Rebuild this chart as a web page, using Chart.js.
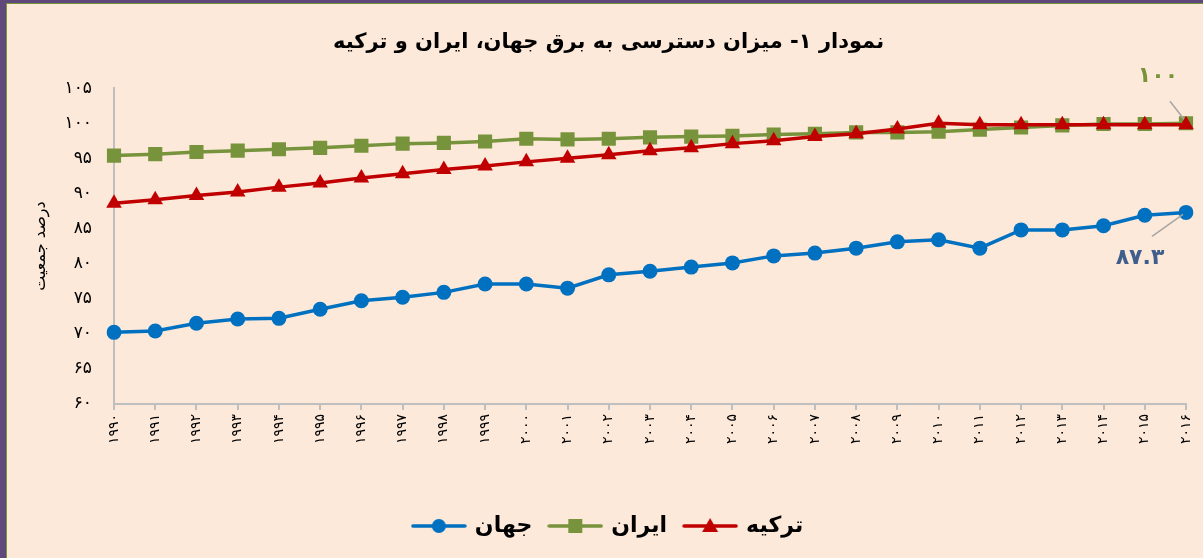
<!DOCTYPE html>
<html lang="fa">
<head>
<meta charset="utf-8">
<script src="https://cdn.jsdelivr.net/npm/chart.js@4.4.0/dist/chart.umd.min.js"></script>
<style>
    html, body { margin: 0; padding: 0; width: 1203px; height: 558px; overflow: hidden; background: #fde9d9; }
    .frame {
        position: absolute; left: 0; top: 0; width: 1203px; height: 558px; box-sizing: border-box;
        border-top: 3px solid #5f497a; border-left: 6px solid #5f497a;
    }
    .inner {
        position: absolute; left: 0; top: 0; right: 0; bottom: 0;
        border-top: 1px solid #77933c; border-left: 1px solid #77933c;
    }
    .chart-box { position: absolute; left: 0; top: 0; right: 0; bottom: 0; }
</style>
</head>
<body>
<div class="frame"><div class="inner"><div class="chart-box"><canvas id="chart1"></canvas></div></div></div>
<script>
const years = ['1990', '1991', '1992', '1993', '1994', '1995', '1996', '1997', '1998', '1999',
    '2000', '2001', '2002', '2003', '2004', '2005', '2006', '2007', '2008', '2009',
    '2010', '2011', '2012', '2013', '2014', '2015', '2016'];
const world = [70.2, 70.4, 71.5, 72.1, 72.2, 73.5, 74.7, 75.2, 75.9, 77.1,
    77.1, 76.5, 78.4, 78.9, 79.5, 80.1, 81.1, 81.5, 82.2, 83.1,
    83.4, 82.2, 84.8, 84.8, 85.4, 86.9, 87.3];
const iran = [95.4, 95.6, 95.9, 96.1, 96.3, 96.5, 96.8, 97.1, 97.2, 97.4,
    97.8, 97.7, 97.8, 98.0, 98.1, 98.2, 98.4, 98.5, 98.7, 98.7,
    98.8, 99.1, 99.4, 99.7, 99.9, 99.9, 100];
const turkey = [88.6, 89.1, 89.7, 90.2, 90.9, 91.5, 92.2, 92.8, 93.4, 93.9,
    94.5, 95.0, 95.5, 96.1, 96.5, 97.1, 97.5, 98.1, 98.5, 99.2,
    100, 99.8, 99.8, 99.8, 99.8, 99.8, 99.8];
const yTicks = { min: 60, max: 105, step: 5 };
const seriesNames = ['جهان', 'ایران', 'ترکیه'];

const FONT = "'DejaVu Sans', sans-serif";
const BLUE = '#0070c0';
const GREEN = '#77933c';
const RED = '#c00000';

function toFa(v) {
    return String(v).replace(/\d/g, d => '۰۱۲۳۴۵۶۷۸۹'[d]);
}

// line + marker icon for the legend, like the office legend
function legendIcon(color, shape) {
    const c = document.createElement('canvas');
    c.width = 56;
    c.height = 20;
    const g = c.getContext('2d');
    g.strokeStyle = color;
    g.fillStyle = color;
    g.lineWidth = 3.5;
    g.lineCap = 'round';
    g.beginPath();
    g.moveTo(2, 10);
    g.lineTo(54, 10);
    g.stroke();
    g.beginPath();
    if (shape === 'circle') {
        g.arc(28, 10, 7, 0, Math.PI * 2);
    } else if (shape === 'rect') {
        g.rect(21, 3, 14, 14);
    } else {
        g.moveTo(28, 2);
        g.lineTo(36, 16);
        g.lineTo(20, 16);
        g.closePath();
    }
    g.fill();
    return c;
}

const endLabels = {
    id: 'endLabels',
    afterDatasetsDraw(chart) {
        const ctx = chart.ctx;
        const last = years.length - 1;
        const pIran = chart.getDatasetMeta(1).data[last];
        const pWorld = chart.getDatasetMeta(0).data[last];
        ctx.save();
        ctx.strokeStyle = '#a6a6a6';
        ctx.lineWidth = 1.5;
        ctx.beginPath();
        ctx.moveTo(pIran.x - 16, pIran.y - 22);
        ctx.lineTo(pIran.x - 2, pIran.y - 4);
        ctx.moveTo(pWorld.x - 34, pWorld.y + 24);
        ctx.lineTo(pWorld.x - 3, pWorld.y + 2);
        ctx.stroke();
        ctx.font = 'bold 22px ' + FONT;
        ctx.textAlign = 'center';
        ctx.textBaseline = 'middle';
        ctx.fillStyle = GREEN;
        ctx.fillText(toFa(iran[last]), pIran.x - 28, pIran.y - 47);
        ctx.fillStyle = '#3f5e8c';
        ctx.fillText(toFa(world[last]), pWorld.x - 46, pWorld.y + 46);
        ctx.restore();
    }
};

window.addEventListener('DOMContentLoaded', () => {
    const ctx1 = document.getElementById('chart1').getContext('2d');
    const icons = [legendIcon(BLUE, 'circle'), legendIcon(GREEN, 'rect'), legendIcon(RED, 'triangle')];
    new Chart(ctx1, {
        type: 'line',
        data: {
            labels: years,
            datasets: [{
                label: seriesNames[0],
                data: world,
                borderColor: BLUE,
                backgroundColor: BLUE,
                borderWidth: 3.5,
                pointStyle: 'circle',
                pointRadius: 7.5,
                pointBorderWidth: 0,
                order: 2
            }, {
                label: seriesNames[1],
                data: iran,
                borderColor: GREEN,
                backgroundColor: GREEN,
                borderWidth: 3.5,
                pointStyle: 'rect',
                pointRadius: 10,
                pointBorderWidth: 0,
                order: 1
            }, {
                label: seriesNames[2],
                data: turkey,
                borderColor: RED,
                backgroundColor: RED,
                borderWidth: 3.5,
                pointStyle: 'triangle',
                pointRadius: 9,
                pointBorderWidth: 0,
                order: 0
            }]
        },
        options: {
            responsive: true,
            maintainAspectRatio: false,
            animation: false,
            layout: { padding: { left: 24, right: 17, top: 0, bottom: 11 } },
            plugins: {
                title: {
                    display: true,
                    text: 'نمودار ۱- میزان دسترسی به برق جهان، ایران و ترکیه',
                    color: '#000',
                    font: { family: FONT, size: 21, weight: 'bold' },
                    padding: { top: 26, bottom: 33 }
                },
                legend: {
                    position: 'bottom',
                    labels: {
                        color: '#000',
                        font: { family: FONT, size: 22, weight: 'bold' },
                        usePointStyle: true,
                        pointStyleWidth: 50,
                        padding: 18,
                        generateLabels: chart => chart.data.datasets.map((ds, i) => ({
                            text: ds.label,
                            pointStyle: icons[i],
                            rotation: 0,
                            fillStyle: ds.borderColor,
                            strokeStyle: ds.borderColor,
                            lineWidth: 0,
                            hidden: false,
                            datasetIndex: i,
                            fontColor: '#000'
                        }))
                    }
                },
                tooltip: { enabled: false }
            },
            scales: {
                x: {
                    offset: false,
                    afterFit: scale => {
                        scale.height += 49;
                        scale.paddingRight = 0;
                    },
                    grid: { drawOnChartArea: false, drawTicks: true, tickLength: 6, color: '#bfbfbf', lineWidth: 2 },
                    border: { display: true, color: '#bfbfbf', width: 2 },
                    ticks: {
                        autoSkip: false,
                        minRotation: 90,
                        maxRotation: 90,
                        padding: 4,
                        color: '#000',
                        font: { family: FONT, size: 14 },
                        callback: (v, i) => toFa(years[i])
                    }
                },
                y: {
                    min: yTicks.min,
                    max: yTicks.max,
                    afterFit: scale => { scale.width = 83; },
                    grid: { drawOnChartArea: false, drawTicks: false },
                    border: { display: true, color: '#bfbfbf', width: 2 },
                    ticks: {
                        stepSize: yTicks.step,
                        padding: 22,
                        color: '#000',
                        font: { family: FONT, size: 17 },
                        callback: v => toFa(v)
                    },
                    title: {
                        display: true,
                        text: 'درصد جمعیت',
                        color: '#000',
                        font: { family: FONT, size: 16 },
                        padding: { top: 0, bottom: 0 }
                    }
                }
            }
        },
        plugins: [endLabels]
    });
});
</script>
</body>
</html>
